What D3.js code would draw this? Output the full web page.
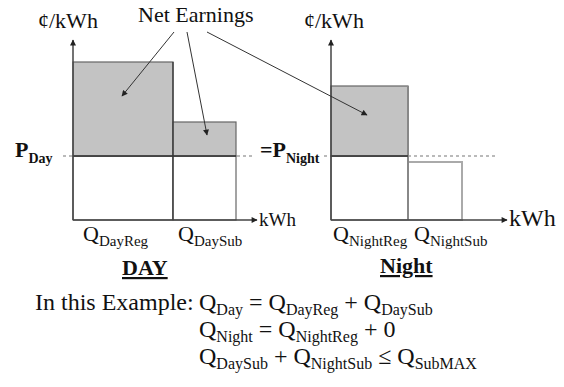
<!DOCTYPE html>
<html><head><meta charset="utf-8">
<script src="https://cdn.jsdelivr.net/npm/d3@7"></script>
</head><body style="margin:0">
<svg id="c" width="564" height="387" font-family="Liberation Serif"></svg>
<script>
// ---- data ----
const panels = ["DAY", "Night"];
const priceLevel = [3.2, 3.2];                 // P_Day = P_Night (cents/kWh)
const dayLabels = ["DayReg", "DaySub"];
const dayQ = [10, 6.3];                         // kWh
const dayPrice = [7.9, 4.9];                    // cents/kWh
const nightLabels = ["NightReg", "NightSub"];
const nightQ = [7.7, 5.4];
const nightPrice = [6.7, 2.9];
const priceLabels = [["P", "Day"], ["=P", "Night"]];
const yTitle = "\u00a2/kWh";
const xTitle = "kWh";
const annotation = "Net Earnings";
const exampleLabel = "In this Example:";
const arrowTargets = [[0, 4.9, 6.2], [0, 13.4, 4.25], [1, 3.6, 5.25]]; // [panel, kWh, cents/kWh]
const equations = [
  [["Q", "Day"], [" = Q", "DayReg"], [" + Q", "DaySub"]],
  [["Q", "Night"], [" = Q", "NightReg"], [" + 0", ""]],
  [["Q", "DaySub"], [" + Q", "NightSub"], [" \u2264 Q", "SubMAX"]]
];

// ---- layout ----
const svg = d3.select("#c");
const y = d3.scaleLinear().domain([0, 9]).range([220, 40]);
const xs = [
  d3.scaleLinear().domain([0, 18.4]).range([73, 257]),
  d3.scaleLinear().domain([0, 17.6]).range([331, 507])
];

function txt(g, x, yy, size, weight) {
  return g.append("text").attr("x", x).attr("y", yy)
    .style("font-family", '"Liberation Serif"').style("font-size", size + "px")
    .style("font-weight", weight || "normal").style("fill", "#111");
}

const defs = svg.append("defs");
defs.append("marker").attr("id", "ah").attr("viewBox", "0 0 10 10")
  .attr("refX", 9).attr("refY", 5).attr("markerWidth", 7).attr("markerHeight", 6)
  .attr("markerUnits", "userSpaceOnUse").attr("orient", "auto")
  .append("path").attr("d", "M0,0L10,5L0,10Z").attr("fill", "#222");

function subText(g, x, yy, parts, size, subSize, weight, subShift) {
  const t = txt(g, x, yy, size, weight);
  let shifted = 0;
  parts.forEach(([m, s]) => {
    const mt = t.append("tspan").text(m).style("font-size", size + "px");
    if (shifted) { mt.attr("dy", -shifted); shifted = 0; }
    if (s) {
      t.append("tspan").text(s).style("font-size", subSize + "px").attr("dy", subShift);
      shifted = subShift;
    }
  });
  return t;
}

const panelData = [
  {q: dayQ, p: dayPrice, labels: dayLabels},
  {q: nightQ, p: nightPrice, labels: nightLabels}
];

panelData.forEach((pd, i) => {
  const x = xs[i];
  const g = svg.append("g");
  const P = priceLevel[i];
  let cum = 0;
  const bars = pd.q.map((q, j) => { const b = {x0: cum, x1: cum + q, p: pd.p[j], label: pd.labels[j]}; cum += q; return b; });
  const lastAbove = bars.filter(b => b.p >= P).pop();

  g.append("line").attr("x1", x(0) - (i === 0 ? 10 : 7)).attr("x2", i === 0 ? x(cum) + 19 : x(cum) + 36)
    .attr("y1", y(P)).attr("y2", y(P))
    .attr("stroke", "#777").attr("stroke-width", 1.2).attr("stroke-dasharray", "3,3");

  bars.forEach((b) => {
    const low = Math.min(b.p, P);
    g.append("rect").attr("x", x(b.x0)).attr("y", y(low))
      .attr("width", x(b.x1) - x(b.x0)).attr("height", y(0) - y(low))
      .attr("fill", "#fff")
      .attr("stroke", b.p >= P ? "#666" : "#aaa").attr("stroke-width", b.p >= P ? 1.2 : 2);
    if (b.p > P) {
      g.append("rect").attr("x", x(b.x0)).attr("y", y(b.p))
        .attr("width", x(b.x1) - x(b.x0)).attr("height", y(P) - y(b.p))
        .attr("fill", "#c3c3c3").attr("stroke", "#666").attr("stroke-width", 1.2);
    }
  });
  g.append("line").attr("x1", x(bars[0].x1)).attr("x2", x(bars[0].x1))
    .attr("y1", y(Math.max(bars[0].p, bars[1].p > P ? bars[1].p : P))).attr("y2", y(0))
    .attr("stroke", i === 0 ? "#333" : "#888").attr("stroke-width", i === 0 ? 1.2 : 2);
  g.append("line").attr("x1", x(0)).attr("x2", x(lastAbove.x1))
    .attr("y1", y(P)).attr("y2", y(P)).attr("stroke", "#333").attr("stroke-width", 1.4);

  g.append("line").attr("x1", x(0)).attr("y1", y(0)).attr("x2", x(0)).attr("y2", y(9))
    .attr("stroke", "#444").attr("stroke-width", 1.5).attr("marker-end", "url(#ah)");
  g.append("line").attr("x1", x(0)).attr("y1", y(0)).attr("x2", x.range()[1]).attr("y2", y(0))
    .attr("stroke", "#444").attr("stroke-width", 1.5).attr("marker-end", "url(#ah)");

  txt(g, i === 0 ? 38 : 304, 28, 22).text(yTitle);
  txt(g, x.range()[1] + 2, 226, i === 0 ? 19 : 24).text(xTitle);

  const offs = i === 0 ? [10, 5] : [2, 6];
  bars.forEach((b, j) => {
    subText(g, x(b.x0) + offs[j], 241, [["Q", b.label]], 22, 15, "normal", 5);
  });

  txt(g, i === 0 ? 122 : 380, i === 0 ? 275 : 273, 22, "bold")
    .style("text-decoration", "underline").text(panels[i]);

  subText(g, i === 0 ? 15 : 260, 157, [priceLabels[i]], 22, 14, "bold", 6);
});

txt(svg, 138, 22, 22).text(annotation);
const starts = [[174, 32], [187, 32], [207, 32]];
arrowTargets.forEach(([pi, kx, py], k) => {
  svg.append("line").attr("x1", starts[k][0]).attr("y1", starts[k][1])
    .attr("x2", xs[pi](kx)).attr("y2", y(py))
    .attr("stroke", "#333").attr("stroke-width", 1).attr("marker-end", "url(#ah)");
});

txt(svg, 35, 310, 24).text(exampleLabel);
equations.forEach((eq, k) => {
  subText(svg, 199, 310 + k * 27, eq, 24, 16, "normal", 5);
});
</script>
</body></html>
